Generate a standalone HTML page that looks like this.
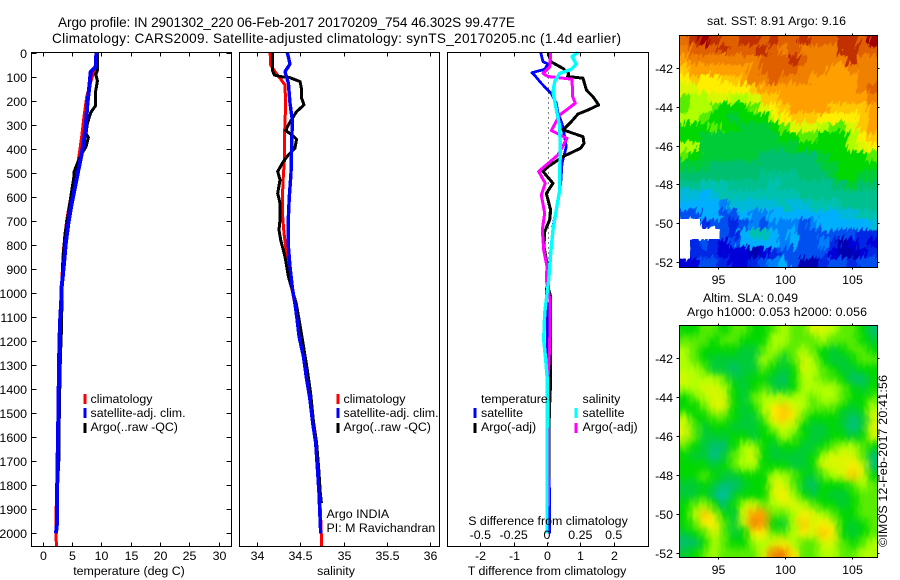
<!DOCTYPE html>
<html lang="en">
<head>
<meta charset="utf-8">
<title>Argo profile comparison</title>
<style>
html,body{margin:0;padding:0;background:#fff;}
body{width:900px;height:580px;overflow:hidden;}
svg{display:block;}
text{font-family:"Liberation Sans",sans-serif;font-size:12.4px;fill:#000;}
</style>
</head>
<body>
<svg id="figure" xmlns="http://www.w3.org/2000/svg" width="900" height="580" viewBox="0 0 900 580">
  <defs>
    <clipPath id="clip-sst"><rect x="679.5" y="35.5" width="198" height="232"/></clipPath>
    <clipPath id="clip-sla"><rect x="679.5" y="325.5" width="198" height="232"/></clipPath>
    <filter id="streak" filterUnits="userSpaceOnUse" x="480" y="-150" width="600" height="620" color-interpolation-filters="sRGB">
      <feTurbulence type="fractalNoise" baseFrequency="0.35 0.07" numOctaves="2" seed="7" result="n"/>
      <feDisplacementMap in="SourceGraphic" in2="n" scale="16" xChannelSelector="R" yChannelSelector="G"/>
    </filter>
    <filter id="soft" filterUnits="userSpaceOnUse" x="620" y="270" width="320" height="340" color-interpolation-filters="sRGB">
      <feGaussianBlur in="SourceGraphic" stdDeviation="4" result="b"/>
      <feTurbulence type="fractalNoise" baseFrequency="0.3 0.12" numOctaves="1" seed="3" result="n"/>
      <feDisplacementMap in="b" in2="n" scale="7" xChannelSelector="R" yChannelSelector="G"/>
    </filter>
  </defs>
  <text x="58" y="27" textLength="457" lengthAdjust="spacing" style="font-size:13.6px">Argo profile: IN 2901302_220 06-Feb-2017 20170209_754 46.302S 99.477E</text>
  <text x="52" y="43" textLength="569" lengthAdjust="spacing" style="font-size:13.6px">Climatology: CARS2009. Satellite-adjusted climatology: synTS_20170205.nc (1.4d earlier)</text>
  <text x="707" y="25" textLength="139" lengthAdjust="spacing">sat. SST: 8.91 Argo: 9.16</text>
  <text x="703" y="302" textLength="95" lengthAdjust="spacing">Altim. SLA: 0.049</text>
  <text x="687" y="316" textLength="180" lengthAdjust="spacing">Argo h1000: 0.053 h2000: 0.056</text>
  <text transform="translate(887,547) rotate(-90)" textLength="172" lengthAdjust="spacing">©IMOS 12-Feb-2017 20:41:56</text>
</svg>
<script>
// ---------- axis tick labels ----------
const depthTicks = [0,100,200,300,400,500,600,700,800,900,1000,1100,1200,1300,1400,1500,1600,1700,1800,1900,2000];
const tempTicks = [0,5,10,15,20,25,30];
const salTicks = [34,34.5,35,35.5,36];
const tDiffTicks = [-2,-1,0,1,2];
const sDiffTicks = [-0.5,-0.25,0,0.25,0.5];
const lonTicks = [95,100,105];
const latTicks = [-42,-44,-46,-48,-50,-52];

// ---------- temperature profile ----------
const climTempDepth = [0,60,108,184,267,350,421,476,546,643,698,822,988,1125,1403,1680,1930,2053];
const climTempValues = [9.1,9.0,8.37,7.53,7.07,6.67,6.27,5.93,5.25,4.51,4.12,3.55,3.2,2.95,2.76,2.55,2.3,2.35];
const argoTempDepth = [0,76,90,118,160,222,250,295,337,353,392,421,462,497,515,586,670,753,878,988,1029,1168,1265,1473,1722,1740];
const argoTempValues = [9.34,9.33,9.06,9.35,9.06,9.0,8.2,7.64,7.41,7.8,7.41,6.67,5.93,5.37,5.37,4.91,4.4,3.83,3.44,3.28,3.32,3.2,3.05,2.88,2.76,2.74];
const satTempDepth = [0,60,80,143,212,295,365,421,490,560,643,712,795,878,933,988,1029,1125,1237,1403,1611,1764,1957,2000];
const satTempValues = [9.17,9.05,8.2,7.97,7.64,7.41,7.07,6.67,6.1,5.54,4.85,4.4,3.95,3.66,3.44,3.2,3.2,2.98,2.86,2.76,2.64,2.52,2.47,2.3];

// ---------- salinity profile ----------
const climSalDepth = [0,52,80,107,135,225,281,364,447,516,600,683,752,807,863,918,980,1098,1265,1445,1625,1833,1960,2053];
const climSalValues = [34.154,34.161,34.211,34.269,34.326,34.334,34.326,34.319,34.319,34.307,34.296,34.30,34.315,34.334,34.353,34.372,34.403,34.468,34.543,34.62,34.69,34.725,34.74,34.749];
const argoSalDepth = [0,73,94,100,105,121,156,191,218,246,274,301,325,343,361,398,426,454,495,530,586,627,696,738,780,849,932,980,1043,1126,1209,1320,1417,1542,1625,1736,1833,1874];
const argoSalValues = [34.18,34.18,34.204,34.269,34.384,34.5,34.518,34.518,34.545,34.46,34.41,34.365,34.334,34.41,34.46,34.44,34.365,34.307,34.242,34.269,34.242,34.269,34.269,34.257,34.276,34.326,34.365,34.403,34.455,34.495,34.533,34.583,34.621,34.655,34.69,34.715,34.733,34.745];
const satSalDepth = [0,48,80,128,211,281,392,502,600,683,807,890,980,1029,1098,1182,1265,1362,1445,1542,1625,1736,1833,1944,2000];
const satSalValues = [34.353,34.384,34.326,34.365,34.384,34.41,34.403,34.395,34.376,34.365,34.365,34.384,34.411,34.434,34.461,34.488,34.538,34.576,34.614,34.645,34.68,34.70,34.718,34.73,34.737];

// ---------- difference profiles ----------
const satTDiffDepth = [0,38,48,70,84,103,128,170,211,253,295,336,392,461,544,613,724,835,946,987,1084,1250,1611,2000];
const satTDiffValues = [-0.19,-0.12,0.03,-0.07,-0.45,-0.32,-0.17,0.13,0.28,0.33,0.45,0.51,0.58,0.45,0.41,0.33,0.18,0.11,0.05,-0.02,0.01,0.01,0.06,0.08];
const argoTDiffDepth = [0,38,66,87,100,107,156,184,218,239,256,288,322,350,378,398,433,475,495,544,586,655,696,745,807,863,890,987,1015,1181,1362,1500,1800];
const argoTDiffValues = [0.05,0.11,0.48,0.65,0.62,1.08,1.18,1.38,1.55,1.23,0.93,0.73,0.48,1.08,1.11,1.01,0.48,0.03,-0.12,0.18,-0.02,0.11,0.08,-0.07,-0.09,-0.02,0.05,0.05,0.11,0.11,0.11,0.07,0.05];
const argoSDiffDepth = [0,59,87,100,111,184,211,260,325,357,426,495,544,593,669,738,821,890,946,1029,1223,1362,1597,1888];
const argoSDiffValues = [0.0275,0.02,-0.03,0.0075,0.1875,0.1925,0.2125,0.095,0.0325,0.15,0.0825,-0.0625,-0.0125,-0.0425,-0.0175,-0.035,-0.025,0,-0.005,0.0225,0.02,0.0075,0.0125,0.0125];
const satSDiffDepth = [0,17,48,70,87,121,163,225,308,406,502,572,655,738,835,946,1029,1084,1195,1278,1362,1611,2000];
const satSDiffValues = [0.2325,0.1875,0.22,0.1825,0.095,0.0575,0.045,0.065,0.095,0.1,0.095,0.095,0.07,0.045,0.0275,0.0125,-0.005,-0.0175,-0.025,-0.01,0.0025,0,0];

// ---------- map grids (colour level, null = no data) ----------
const sstGrid = [
[9.8,10.5,11,10.5,10,10,10.5,10.5,10,10.5,10,10,10.5,10,10,10,10.5,10.5,10,11],
[9.5,10,10,10,10.5,10,10,10,10.5,10,9.5,10,9.5,9.5,9.5,9.5,10.5,10.5,10,10],
[9,9.5,9.5,9.5,9.5,9.5,9.5,9.5,10,10,10,10.5,10,9.5,9.5,9.5,9.5,10.5,9.5,9.5],
[8.5,9,9,9,9,9,9,9.5,10,10,10,10,9.5,9.5,9.5,9,9,9.5,9.5,9.5],
[8,8.5,8,8,8.5,8.5,9,9.5,9.5,10,9.5,9.5,9.5,9,9,9,9,9,9.5,9.5],
[7.5,7.5,8,8,8,8,8,8.5,9,9,9,9,9,9,9,9,9,9,9.5,10],
[6.5,7,7,7.5,7.5,7,7,7.5,8.5,8.5,9,9,9,9,9,9,9,9,9,9.5],
[6.5,7,7,6.5,6,6,6,6.5,7.5,8,8.5,9,9,9,9,8.5,8.5,8.5,8.5,9],
[7,7,6.5,6,6,5.5,6,6,6,7,8,8.5,8.5,8.5,8,8,8,8,8.5,9],
[6,6,6,6.5,6,6,5.5,5.5,5.5,6,6.5,7.5,7.5,7.5,7,6.5,6.5,7.5,8.5,9],
[6,6,5.5,5.5,5.5,5.5,5.5,5.5,5.5,5.5,6,6,6.5,6.5,6,6,6,7,8,8.5],
[7,7,5.5,5.5,5.5,5.5,5.5,5.5,5.5,5.5,5.5,5.5,6,6,6,6,6,7,7.5,8],
[6.5,6,5.5,5.5,5.5,5.5,5.5,5.5,5,5,5,5,5,5,5.5,6,6,6,6,6.5],
[5.5,5.5,5.5,5,5,5,5,5,5,5,5,5,5,5,5.5,5.5,6,6,6,6],
[5,5,5,5,5,5,5,5,4.5,4.5,4.5,4.5,5,5,5,5.5,6,6,5.5,5.5],
[4.5,4.5,4,4,4,4.5,4.5,4.5,4.5,4,4.5,4.5,4.5,4.5,4.5,5,5,5.5,5,5],
[3.5,3.5,3,3.5,4,4,4,4,4,4,4,4,4.5,4.5,4.5,4.5,4.5,4.5,4.5,4.5],
[3,3,3,3,2.5,3.5,3.5,3.5,3.5,3.5,4,3.5,3.5,4,4,4,4.5,4.5,4.5,4.5],
[2,2,3,3,2,2,3,2.5,2.5,3,3,3,3,3,3,3,3.5,3.5,4,4],
[null,null,1.5,2,2,1.5,2,2.5,2,2.5,2.5,2.5,2,2.5,3,3,3,3,3,3.5],
[null,null,null,null,2,1.5,3,4,4,3,2.5,3,2,2,2,2,2,2,1.5,1.5],
[null,1.5,2,1.5,1,2,3,3,3,3,2.5,3,2,2,2.5,1.5,0.5,1,1.5,1],
[null,1.5,1.5,1.5,1,1,1,0.5,1,1.5,2,2,2,2,2,1,0.5,0.5,1,1.5],
[1,1,2,2,1.5,1,1,1.5,2,2.5,3,2,0.5,0.5,1.5,2,2,1.5,2,2]
];
const slaGrid = [
[6,6,6.5,6.5,6,6.5,6.5,6,6,6.5,7,6.5,6.5,7.5,7.5,7,6.5,6.5,6,5],
[6.5,6.5,6.5,6,6.5,6.5,6,6,6,7,7,6.5,6.5,6.5,7,6.5,6.5,6.5,6,5.5],
[7,6.5,6,6,6,6,5.5,5.5,6.5,7,6.5,6.5,7,6.5,6,5.5,6,6.5,6.5,6],
[7,6.5,6,5.5,5.5,5.5,5.5,5.5,7,6.5,5.5,6.5,7.5,7,6,5.5,5.5,6,6.5,6.5],
[7,7,6.5,5.5,5.5,5,5.5,5.5,6.5,6,5.5,6,7.5,7,6.5,6,5.5,5.5,6,6],
[7.5,7,7,7,6.5,5.5,5.5,6,6,5.5,5,6,7,7,6.5,6.5,6,5,5,6],
[7,7,7.5,7.5,7,6,5.5,6,6.5,5.5,5.5,6,7,7,7,7,6.5,6,5.5,6],
[6,6.5,7,7.5,7.5,6,5.5,6.5,7,7,7,7,7,6.5,7,7,6.5,6,6,6.5],
[6,6,6.5,7.5,7.5,6,5.5,6,7,8,8.5,7.5,7,6.5,6.5,6.5,6,5.5,6,7],
[7,6,6,6.5,6.5,6,5.5,5.5,6.5,8,8.5,8,6.5,6,6,6,5.5,5,5.5,7.5],
[7.5,6.5,5.5,6,6,5.5,5.5,5.5,6,7,7.5,7,6,5.5,5.5,6,5.5,4.5,5.5,7.5],
[7.5,6.5,5.5,5.5,5.5,6,6,5.5,6,6,7,6.5,6,5.5,5.5,6,6,5.5,6,7.5],
[6.5,6,5.5,5,5,6,7,7,6,5.5,6,6,5.5,5.5,6,6.5,7,7,6.5,6],
[6,5.5,5.5,4.5,5.5,6.5,7,7.5,6,5.5,5.5,5.5,5.5,6,7,7.5,7.5,7.5,6.5,5],
[6,6,6,5.5,6,6.5,7,7,6,6,6,5.5,5.5,6,7.5,7.5,7.5,8,7.5,5],
[6,6,6.5,6,5.5,5.5,6,6,6,7,7,6.5,6,5.5,6.5,7,7.5,8.5,7.5,6],
[5.5,5.5,6,5.5,5,5,5.5,6,6,7.5,7.5,6.5,5.5,5,6,6,6,6.5,7,6.5],
[5.5,5.5,6,5,4,5.5,6,6,6,7.5,8,7,6,5.5,6,5.5,5.5,6,6.5,6.5],
[6,6.5,7,6,5,6,7,7.5,6.5,7,7.5,7.5,7,6.5,6,6,5.5,6,6.5,6.5],
[6,7,8.5,7.5,6,5.5,7.5,9,9,6.5,6.5,7,8,7.5,7,6.5,6,6,6.5,6.5],
[6,6.5,8,8,6.5,5.5,7.5,9.5,9,6,5.5,7,8.5,7.5,8,7.5,6,5.5,6,6.5],
[5.5,6,6.5,7.5,6.5,5.5,6,8,8,6.5,6.5,7,8,7.5,8.5,8,6,5.5,6,6.5],
[5,5,6,7,6.5,6,6,7,7,7.5,8,7,6.5,6.5,7.5,7.5,6.5,6,6.5,7],
[5.5,6,6.5,7,6.5,6.5,6.5,6.5,7.5,9.5,9.5,8,6.5,6.5,7,7,6.5,6.5,7,7]
];
const colorStops = ['#00008c','#0000d8','#0050f0','#00b0ff','#00c0b0','#00c070','#00d800','#b0ff00','#ffee00','#ffa000','#e06000','#a00000'];

// ---------- helpers ----------
const svg = document.getElementById('figure');
const NS = 'http://www.w3.org/2000/svg';
function scale(d0, d1, r0, r1) { return v => r0 + (v - d0) * (r1 - r0) / (d1 - d0); }
function make(tag, attrs, name, parent) {
  const el = document.createElementNS(NS, tag);
  for (const k in attrs) el.setAttribute(k, attrs[k]);
  
  
  (parent || svg).appendChild(el);
  return el;
}
function label(str, x, y, anchor, name, parent) {
  const t = make('text', {x: x, y: y, 'text-anchor': anchor || 'start'}, name, parent);
  t.textContent = str;
  return t;
}
function seg(x1, y1, x2, y2, name, parent) {
  return make('line', {x1: x1, y1: y1, x2: x2, y2: y2, stroke: '#000', 'stroke-width': 1, 'shape-rendering': 'crispEdges'}, name, parent);
}
function series(depths, values, xs, ys, color, width, name) {
  const pts = depths.map((d, i) => xs(values[i]).toFixed(1) + ',' + ys(d).toFixed(1)).join(' ');
  return make('polyline', {points: pts, fill: 'none', stroke: color, 'stroke-width': width, 'stroke-linejoin': 'round', 'shape-rendering': 'crispEdges'}, name);
}
function swatch(x, y, color, name) {
  return make('rect', {x: x, y: y, width: 3, height: 10, fill: color}, name);
}
function levelColor(v) {
  const c = Math.max(0, Math.min(colorStops.length - 1.001, v));
  const i = Math.floor(c), f = c - i;
  const hex = s => [1, 3, 5].map(p => parseInt(s.substr(p, 2), 16));
  const a = hex(colorStops[i]), b = hex(colorStops[i + 1]);
  return 'rgb(' + a.map((u, k) => Math.round(u + (b[k] - u) * f)).join(',') + ')';
}

// ---------- profile panels ----------
const TOP = 52.5, BOTTOM = 546.5;
const yDepth = scale(0, 2000, 52.5, 533.3);
const xTemp = scale(0, 30, 42.5, 218.7);
const xSal = scale(34, 36, 256.7, 430.3);
const xTDiff = scale(-2, 2, 480.3, 613.7);
const xSDiff = scale(-0.5, 0.5, 480.3, 613.7);

function frame(x0, x1, name) {
  make('rect', {x: x0, y: TOP, width: x1 - x0, height: BOTTOM - TOP, fill: 'none', stroke: '#000', 'stroke-width': 1, 'shape-rendering': 'crispEdges'}, name);
}
function xTicks(ticks, xs, prefix) {
  ticks.forEach(t => {
    const x = Math.round(xs(t)) + 0.5;
    seg(x, TOP, x, TOP + 4, prefix + '-top-tick');
    seg(x, BOTTOM, x, BOTTOM - 4, prefix + '-bottom-tick');
    label(String(t), x, 560, 'middle', prefix + '-tick-label');
  });
}

// temperature panel
const P1L = 31.5, P1R = 231.5;
series(climTempDepth, climTempValues, xTemp, yDepth, '#ff0000', 3, 'climatology-temperature-line');
series(argoTempDepth, argoTempValues, xTemp, yDepth, '#000000', 3, 'argo-temperature-line');
series(satTempDepth, satTempValues, xTemp, yDepth, '#0000ff', 4, 'satellite-temperature-line');
frame(P1L, P1R, 'temperature-panel-frame');
depthTicks.forEach(d => {
  const y = Math.round(yDepth(d)) + 0.5;
  seg(P1L, y, P1L + 5, y, 'depth-left-tick');
  seg(P1R, y, P1R - 5, y, 'depth-right-tick');
  label(String(d), 27, y + 4.5, 'end', 'depth-tick-label');
});
xTicks(tempTicks, xTemp, 'temperature');
label('temperature (deg C)', 129, 575, 'middle', 'temperature-axis-title');
swatch(83.5, 394, '#ff0000', 'legend-swatch-climatology');
swatch(83.5, 408, '#0000ff', 'legend-swatch-satellite');
swatch(83.5, 423, '#000000', 'legend-swatch-argo');
label('climatology', 90.5, 403, 'start', 'legend-label-climatology');
label('satellite-adj. clim.', 90.5, 417, 'start', 'legend-label-satellite');
label('Argo(..raw -QC)', 90.5, 431, 'start', 'legend-label-argo');

// salinity panel
series(climSalDepth, climSalValues, xSal, yDepth, '#ff0000', 3, 'climatology-salinity-line');
series(argoSalDepth, argoSalValues, xSal, yDepth, '#000000', 3, 'argo-salinity-line');
series(satSalDepth, satSalValues, xSal, yDepth, '#0000ff', 3.4, 'satellite-salinity-line');
frame(239.5, 439.5, 'salinity-panel-frame');
xTicks(salTicks, xSal, 'salinity');
label('salinity', 336, 575, 'middle', 'salinity-axis-title');
swatch(336.5, 394, '#ff0000', 'salinity-legend-swatch-climatology');
swatch(336.5, 408, '#0000ff', 'salinity-legend-swatch-satellite');
swatch(336.5, 423, '#000000', 'salinity-legend-swatch-argo');
label('climatology', 343.5, 403, 'start', 'salinity-legend-label-climatology');
label('satellite-adj. clim.', 343.5, 417, 'start', 'salinity-legend-label-satellite');
label('Argo(..raw -QC)', 343.5, 431, 'start', 'salinity-legend-label-argo');
label('Argo INDIA', 326.5, 518, 'start', 'program-label');
label('PI: M Ravichandran', 326.5, 532, 'start', 'investigator-label');

// difference panel
make('line', {x1: 548.5, y1: TOP, x2: 548.5, y2: BOTTOM, stroke: '#000', 'stroke-width': 1, 'stroke-dasharray': '1 4', 'shape-rendering': 'crispEdges'}, 'zero-difference-line');
series(satTDiffDepth, satTDiffValues, xTDiff, yDepth, '#0000ff', 2.8, 'satellite-t-difference-line');
series(argoTDiffDepth, argoTDiffValues, xTDiff, yDepth, '#000000', 3, 'argo-t-difference-line');
series(argoSDiffDepth, argoSDiffValues, xSDiff, yDepth, '#ff00ff', 3, 'argo-s-difference-line');
series(satSDiffDepth, satSDiffValues, xSDiff, yDepth, '#00ffff', 3.4, 'satellite-s-difference-line');
frame(447.5, 648.5, 'difference-panel-frame');
xTicks(tDiffTicks, xTDiff, 't-difference');
sDiffTicks.forEach(t => label(String(t), xSDiff(t), 539, 'middle', 's-difference-tick-label'));
label('S difference from climatology', 548, 525, 'middle', 's-difference-axis-title');
label('T difference from climatology', 547, 575, 'middle', 't-difference-axis-title');
label('temperature', 481, 403, 'start', 'diff-legend-heading-temperature');
label('satellite', 481, 417, 'start', 'diff-legend-label-t-satellite');
label('Argo(-adj)', 481, 431, 'start', 'diff-legend-label-t-argo');
label('salinity', 582.5, 403, 'start', 'diff-legend-heading-salinity');
label('satellite', 582.5, 417, 'start', 'diff-legend-label-s-satellite');
label('Argo(-adj)', 582.5, 431, 'start', 'diff-legend-label-s-argo');
swatch(473.5, 408, '#0000ff', 'diff-legend-swatch-t-satellite');
swatch(473.5, 423, '#000000', 'diff-legend-swatch-t-argo');
swatch(574.5, 408, '#00ffff', 'diff-legend-swatch-s-satellite');
swatch(574.5, 423, '#ff00ff', 'diff-legend-swatch-s-argo');

// ---------- maps ----------
function drawMap(grid, box, clipId, filterId, latY, prefix, rotateDeg) {
  const xLon = scale(95, 105, 717.7, 851.7);
  const rows = grid.length, cols = grid[0].length;
  const cw = box.w / cols, ch = box.h / rows;
  const clip = make('g', {'clip-path': 'url(#' + clipId + ')'}, prefix + '-map-area');
  const cx = box.x + box.w / 2, cy = box.y + box.h / 2;
  const outer = make('g', {filter: 'url(#' + filterId + ')', transform: 'rotate(' + rotateDeg + ' ' + cx + ' ' + cy + ')'}, prefix + '-map-texture', clip);
  const inner = make('g', {transform: 'rotate(' + (-rotateDeg) + ' ' + cx + ' ' + cy + ')'}, prefix + '-map-cells', outer);
  const pad = 40;
  grid.forEach((row, r) => row.forEach((v, c) => {
    if (v === null) return;
    const x = box.x + c * cw - (c === 0 ? pad : 0);
    const y = box.y + r * ch - (r === 0 ? pad : 0);
    const w = cw + (c === 0 ? pad : 0) + (c === cols - 1 ? pad : 0) + 0.5;
    const h = ch + (r === 0 ? pad : 0) + (r === rows - 1 ? pad : 0) + 0.5;
    make('rect', {x: x, y: y, width: w, height: h, fill: levelColor(v), 'shape-rendering': 'crispEdges'}, prefix + '-cell', inner);
  }));
  grid.forEach((row, r) => row.forEach((v, c) => {
    if (v !== null) return;
    make('rect', {x: box.x + c * cw, y: box.y + r * ch, width: cw + 0.5, height: ch + 0.5, fill: '#fff', 'shape-rendering': 'crispEdges'}, prefix + '-no-data-cell', clip);
  }));
  make('rect', {x: box.x, y: box.y, width: box.w, height: box.h, fill: 'none', stroke: '#000', 'stroke-width': 1, 'shape-rendering': 'crispEdges'}, prefix + '-map-frame');
  const left = box.x, right = box.x + box.w, top = box.y, bottom = box.y + box.h;
  latTicks.forEach(t => {
    const y = Math.round(latY(t)) + 0.5;
    seg(left, y, left - 3, y, prefix + '-lat-left-tick');
    seg(right, y, right + 2, y, prefix + '-lat-right-tick');
    label(String(t), 673, y + 4.5, 'end', prefix + '-lat-tick-label');
  });
  lonTicks.forEach(t => {
    const x = Math.round(xLon(t)) + 0.5;
    seg(x, top, x, top - 2, prefix + '-lon-top-tick');
    seg(x, bottom, x, bottom + 2, prefix + '-lon-bottom-tick');
    label(String(t), x, bottom + 16.5, 'middle', prefix + '-lon-tick-label');
  });
}
drawMap(sstGrid, {x: 679.5, y: 35.5, w: 198, h: 232}, 'clip-sst', 'streak', scale(-42, -52, 67.7, 262.3), 'sst', 20);
drawMap(slaGrid, {x: 679.5, y: 325.5, w: 198, h: 232}, 'clip-sla', 'soft', scale(-42, -52, 358.3, 552.7), 'sla', 0);
</script>
</body>
</html>
